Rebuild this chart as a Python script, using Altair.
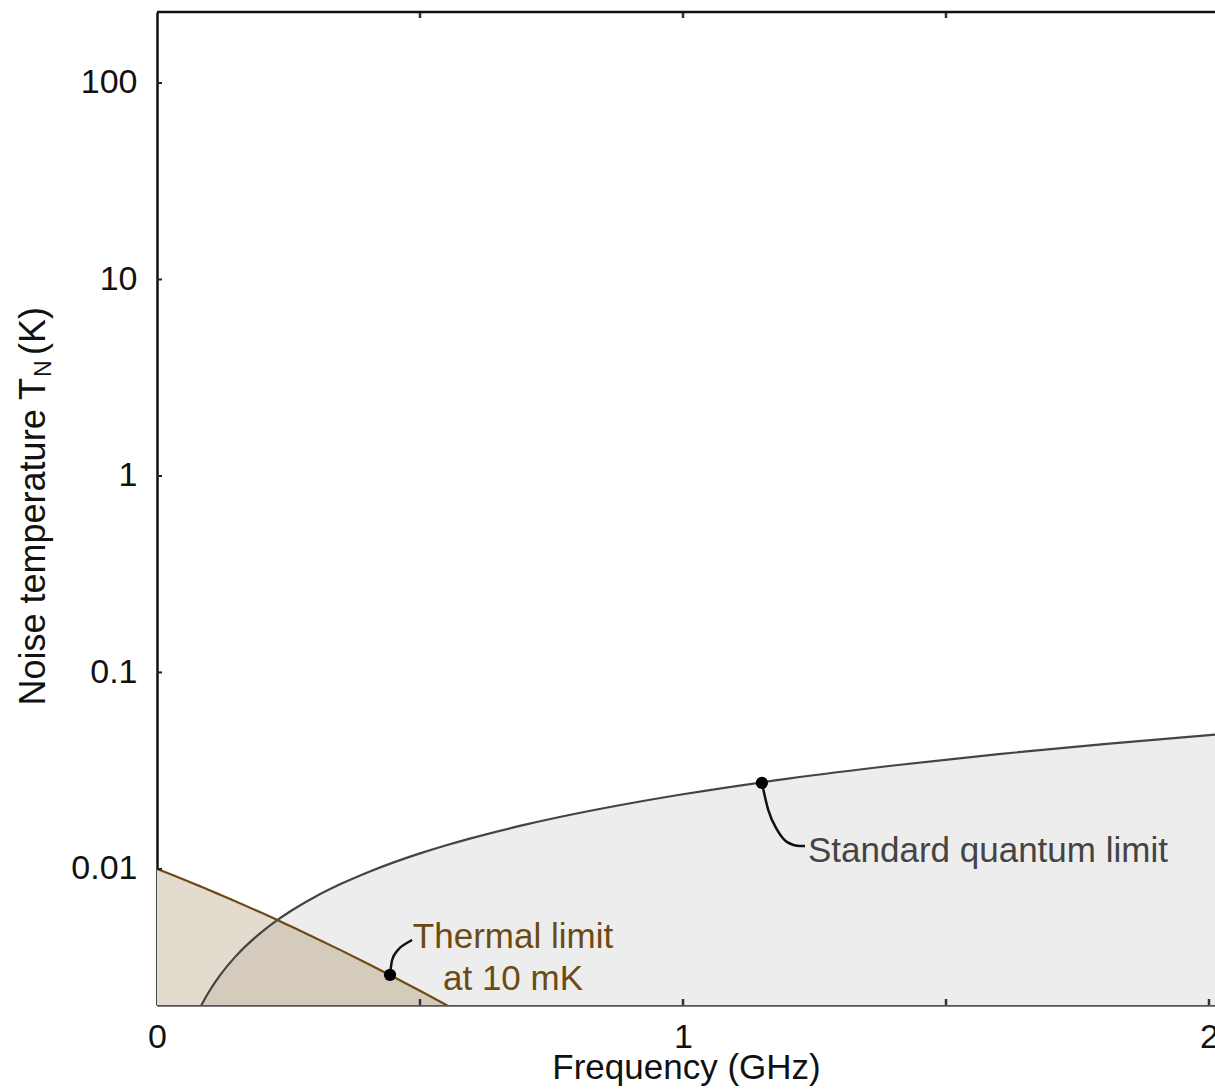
import altair as alt
import pandas as pd

# ---- data ----
# Standard quantum limit curve (GHz, K)
sql_freq = [0.02, 0.04, 0.06, 0.08, 0.09, 0.1, 0.12, 0.15, 0.2, 0.228, 0.25, 0.3, 0.35, 0.4,
            0.45, 0.5, 0.55, 0.6, 0.7, 0.8, 0.9, 1.0, 1.2, 1.4, 1.6, 1.8, 2.0, 2.02]
sql_temp = [0.00048, 0.00096, 0.00144, 0.00192, 0.00216, 0.0024, 0.00288, 0.0036, 0.0048,
            0.00547, 0.0060, 0.0072, 0.0084, 0.0096, 0.0108, 0.0120, 0.0132, 0.0144, 0.0168,
            0.0192, 0.0216, 0.0240, 0.0288, 0.0336, 0.0384, 0.0432, 0.0480, 0.0485]
# Thermal limit at 10 mK (GHz, K)
therm_freq = [0, 0.02, 0.04, 0.06, 0.08, 0.09, 0.1, 0.12, 0.15, 0.2, 0.228, 0.25, 0.3, 0.35,
              0.4, 0.45, 0.5, 0.55, 0.6, 0.7]
therm_temp = [0.0100, 0.00953, 0.00907, 0.00863, 0.00820, 0.00800, 0.00779, 0.00739, 0.00683,
              0.00596, 0.00551, 0.00517, 0.00447, 0.00385, 0.00330, 0.00282, 0.00240, 0.00203,
              0.00171, 0.00121]

# annotation leaders
sql_lead_f = [1.150, 1.162, 1.179, 1.198, 1.222, 1.232]
sql_lead_t = [0.0274, 0.0200, 0.0158, 0.0137, 0.0131, 0.0131]
therm_lead_f = [0.443, 0.447, 0.458, 0.475, 0.485]
therm_lead_t = [0.00289, 0.00344, 0.00387, 0.00420, 0.00435]

dot_f = [1.150, 0.443]
dot_t = [0.0274, 0.00289]

label_text = ["Standard quantum limit", "Thermal limit", "at 10 mK"]
label_f = [1.2376, 0.6768, 0.6768]
label_t = [0.01085, 0.00396, 0.00242]
label_kind = ["sql", "therm", "therm"]

x_tick_labels = [0, 1, 2]
x_ticks = [0.5, 1, 1.5, 2]
y_ticks = [0.01, 0.1, 1, 10, 100]

X_MAX = 2.0114
Y_MIN, Y_MAX = 0.00203, 229.8
W, H = 1058, 993
FONT = "Liberation Sans"

SQL_COLOR = "#444444"
TH_COLOR = "#6b4b12"

sql_df = pd.DataFrame({"f": sql_freq, "T": sql_temp})
sql_df["base"] = Y_MIN
th_df = pd.DataFrame({"f": therm_freq, "T": therm_temp})
th_df["base"] = Y_MIN
# region under both curves (lower of the two at the shared frequencies)
both = sql_df.merge(th_df, on="f", suffixes=("_s", "_t"))
ov_df = pd.DataFrame({"f": both["f"], "T": both[["T_s", "T_t"]].min(axis=1)})
ov_df["base"] = Y_MIN

xs = alt.Scale(domain=[0, X_MAX], nice=False, zero=False)
ys = alt.Scale(type="log", domain=[Y_MIN, Y_MAX], nice=False)

x_axis = alt.Axis(values=x_tick_labels, format="~g", title="Frequency (GHz)", grid=False,
                  ticks=False, labelFlush=False, labelFontSize=34, labelPadding=15,
                  labelColor="#111111", domainColor="#555555", domainWidth=2.5,
                  titleFontSize=35, titleFontWeight="normal", titleColor="#111111", titleY=73,
                  titleBaseline="alphabetic", labelFont=FONT, titleFont=FONT)
y_axis = alt.Axis(values=y_ticks, format="~g", title=None, grid=False, ticks=False,
                  labelFontSize=34, labelPadding=20, labelColor="#111111",
                  domainColor="#111111", domainWidth=2.5, labelFont=FONT)


def X():
    return alt.X("f:Q", scale=xs, axis=x_axis)


def Y():
    return alt.Y("T:Q", scale=ys, axis=y_axis)


sql_area = alt.Chart(sql_df).mark_area(color="#ededed", clip=True, interpolate="monotone").encode(
    x=X(), y=Y(), y2="base:Q")
th_area = alt.Chart(th_df).mark_area(color="#e3dbce", clip=True, interpolate="monotone").encode(
    x=X(), y=Y(), y2="base:Q")
ov_area = alt.Chart(ov_df).mark_area(color="#d4cbbd", clip=True).encode(
    x=X(), y=Y(), y2="base:Q")
sql_line = alt.Chart(sql_df).mark_line(color=SQL_COLOR, strokeWidth=2.2, clip=True,
                                       interpolate="monotone").encode(x=X(), y=Y())
th_line = alt.Chart(th_df).mark_line(color=TH_COLOR, strokeWidth=2.2, clip=True,
                                     interpolate="monotone").encode(x=X(), y=Y())

lead_sql = alt.Chart(pd.DataFrame({"f": sql_lead_f, "T": sql_lead_t})).mark_line(
    color="#111111", strokeWidth=2.5, interpolate="monotone").encode(x=X(), y=Y())
lead_th = alt.Chart(pd.DataFrame({"f": therm_lead_f, "T": therm_lead_t})).mark_line(
    color="#111111", strokeWidth=2.5, interpolate="monotone").encode(x=X(), y=Y())
dots = alt.Chart(pd.DataFrame({"f": dot_f, "T": dot_t})).mark_point(
    filled=True, color="#000000", size=150, opacity=1).encode(x=X(), y=Y())

lab_df = pd.DataFrame({"f": label_f, "T": label_t, "text": label_text, "kind": label_kind})
sql_lab = alt.Chart(lab_df[lab_df.kind == "sql"]).mark_text(
    align="left", baseline="alphabetic", fontSize=35, font=FONT, color=SQL_COLOR
).encode(x=X(), y=Y(), text="text:N")
th_lab = alt.Chart(lab_df[lab_df.kind == "therm"]).mark_text(
    align="center", baseline="alphabetic", fontSize=35, font=FONT, color=TH_COLOR
).encode(x=X(), y=Y(), text="text:N")

# inward ticks
xt_df = pd.DataFrame({"f": x_ticks})
bottom_ticks = alt.Chart(xt_df).mark_rule(color="#333333", strokeWidth=2.5).encode(
    x=X(), y=alt.value(H), y2=alt.value(H - 6))
top_ticks = alt.Chart(xt_df[xt_df.f < 2]).mark_rule(color="#333333", strokeWidth=2.5).encode(
    x=X(), y=alt.value(0), y2=alt.value(6))
left_ticks = alt.Chart(pd.DataFrame({"T": y_ticks})).mark_rule(color="#222222", strokeWidth=2).encode(
    y=Y(), x=alt.value(0), x2=alt.value(5))
top_border = alt.Chart(pd.DataFrame({"a": [0]})).mark_rule(color="#111111", strokeWidth=2.5).encode(
    x=alt.value(0), x2=alt.value(W), y=alt.value(0))

# y-axis title with subscript
yt_df = pd.DataFrame({"a": [0]})
JY = 366
yt_main = alt.Chart(yt_df).mark_text(text="Noise temperature T", angle=270, align="right",
                                     baseline="alphabetic", fontSize=36, font=FONT,
                                     color="#111111").encode(x=alt.value(-112), y=alt.value(JY))
yt_sub = alt.Chart(yt_df).mark_text(text="N", angle=270, align="left", baseline="alphabetic",
                                    fontSize=23, font=FONT, color="#111111").encode(
    x=alt.value(-106), y=alt.value(JY - 1))
yt_end = alt.Chart(yt_df).mark_text(text="(K)", angle=270, align="left", baseline="alphabetic",
                                    fontSize=36, font=FONT, color="#111111").encode(
    x=alt.value(-112), y=alt.value(JY - 23))

chart = alt.layer(
    sql_area, th_area, ov_area, sql_line, th_line, lead_sql, lead_th, dots, sql_lab, th_lab,
    bottom_ticks, top_ticks, left_ticks, top_border, yt_main, yt_sub, yt_end
).properties(
    width=W, height=H,
    padding={"left": 157, "top": 12, "right": 0, "bottom": 86},
    autosize=alt.AutoSizeParams(type="none"),
    background="white",
).configure_view(stroke=None)

chart.save("out.html", embed_options={"renderer": "svg", "actions": False})
